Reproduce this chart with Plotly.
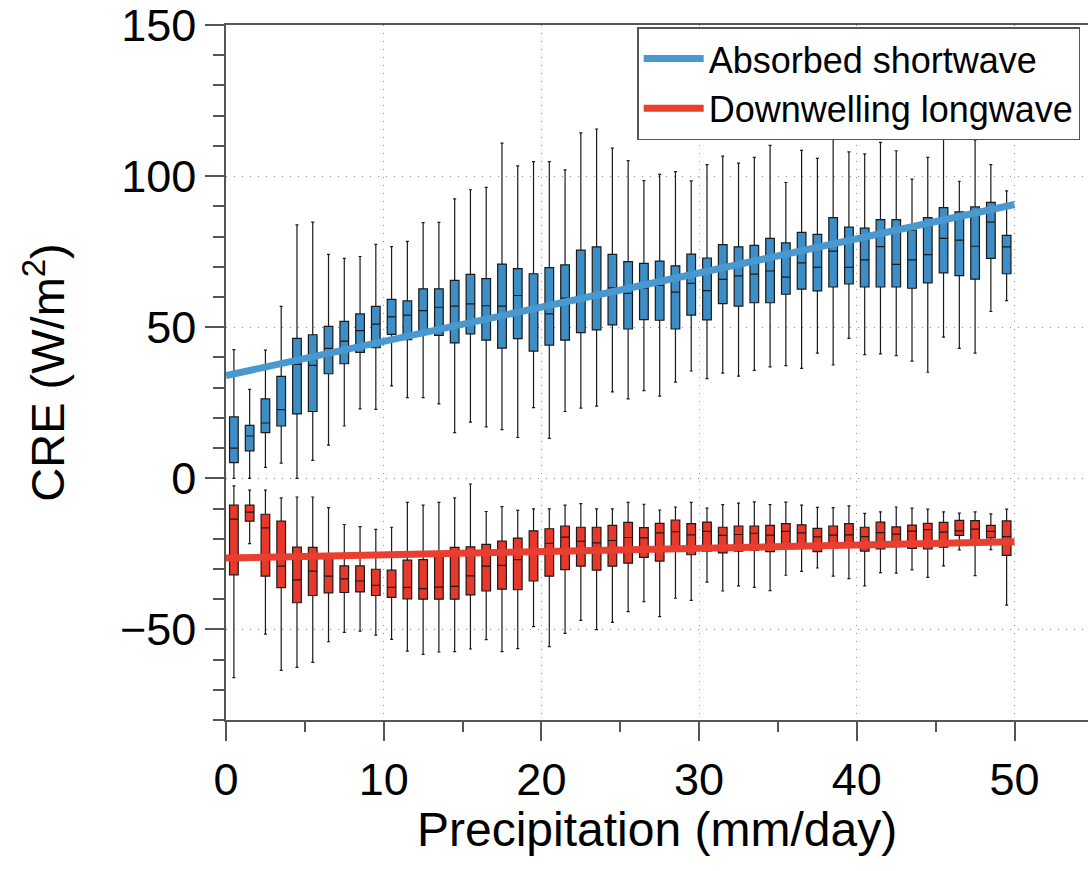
import plotly.graph_objects as go

# bin centres (mm/day)
bins = [0.5, 1.5, 2.5, 3.5, 4.5, 5.5, 6.5, 7.5, 8.5, 9.5,
        10.5, 11.5, 12.5, 13.5, 14.5, 15.5, 16.5, 17.5, 18.5, 19.5,
        20.5, 21.5, 22.5, 23.5, 24.5, 25.5, 26.5, 27.5, 28.5, 29.5,
        30.5, 31.5, 32.5, 33.5, 34.5, 35.5, 36.5, 37.5, 38.5, 39.5,
        40.5, 41.5, 42.5, 43.5, 44.5, 45.5, 46.5, 47.5, 48.5, 49.5]

# Absorbed shortwave CRE (W/m2)
sw_low = [0.0, 0.0, 3.6, 5.0, 0.0, 5.9, 11.0, 17.3, 23.0, 22.8, 30.6, 26.7, 26.7, 24.6, 15.1, 18.6, 17.0, 16.1, 13.5, 23.4,
          13.2, 22.1, 23.2, 23.9, 28.6, 26.3, 29.0, 27.2, 31.8, 35.5, 33.0, 34.8, 33.8, 35.7, 36.9, 37.3, 36.4, 41.4, 37.5, 46.3,
          40.9, 41.2, 40.6, 38.8, 35.1, 46.7, 43.0, 41.4, 55.2, 58.8]
sw_q1 = [5.2, 9.1, 15.1, 17.3, 21.3, 22.1, 34.6, 37.9, 41.7, 43.2, 47.6, 45.9, 48.1, 47.3, 44.8, 47.8, 45.7, 43.1, 46.2, 42.1,
         44.1, 45.7, 48.2, 49.1, 50.8, 49.4, 52.5, 52.3, 49.4, 54.0, 52.4, 57.8, 57.0, 58.1, 58.1, 60.9, 62.6, 62.0, 63.3, 64.3,
         63.3, 63.3, 63.3, 62.9, 64.7, 68.0, 67.1, 65.9, 72.8, 67.7]
sw_med = [10.0, 14.0, 18.3, 22.7, 37.7, 37.4, 43.0, 45.4, 48.9, 51.0, 53.4, 54.0, 55.5, 56.6, 57.0, 57.7, 57.1, 57.0, 60.5, 55.9,
          54.4, 59.6, 59.4, 61.1, 63.0, 61.2, 62.9, 63.8, 61.6, 64.5, 62.1, 65.8, 67.0, 67.6, 68.6, 66.6, 71.3, 69.8, 75.2, 69.8,
          72.3, 76.7, 70.8, 72.3, 74.0, 79.4, 78.8, 76.8, 84.8, 76.6]
sw_q3 = [20.3, 17.5, 26.3, 33.7, 46.3, 47.5, 50.3, 51.9, 54.4, 56.9, 59.2, 58.7, 62.7, 62.7, 65.5, 67.5, 66.1, 70.9, 69.4, 67.7,
         69.7, 70.6, 75.5, 76.6, 74.1, 71.7, 71.1, 71.9, 70.3, 74.2, 72.9, 77.3, 76.6, 77.1, 79.4, 77.9, 81.4, 80.7, 86.3, 83.1,
         82.8, 85.6, 85.6, 82.1, 86.3, 89.6, 88.2, 89.8, 91.3, 80.4]
sw_high = [42.6, 29.4, 42.4, 56.9, 83.9, 84.8, 74.1, 72.8, 73.4, 77.4, 76.7, 78.4, 84.6, 84.7, 92.5, 95.5, 96.3, 110.9, 103.4, 104.8,
           104.8, 102.1, 114.3, 115.6, 109.3, 105.1, 98.5, 100.6, 101.5, 98.4, 103.8, 106.6, 104.3, 106.2, 110.2, 97.9, 108.5, 105.9, 112.8, 108.0,
           107.4, 111.2, 108.4, 99.0, 106.2, 118.1, 98.3, 112.0, 103.8, 95.1]

# Downwelling longwave CRE (W/m2)
lw_high = [-2.5, -3.9, -3.9, -6.5, -6.2, -6.2, -9.7, -15.3, -16.0, -16.9, -16.2, -8.0, -8.9, -8.0, -6.5, -1.9, -11.0, -9.4, -10.6, -10.1,
           -10.1, -8.9, -8.4, -10.1, -10.1, -8.0, -8.6, -10.5, -9.5, -8.0, -9.9, -8.7, -8.2, -7.8, -8.7, -7.9, -8.9, -9.6, -9.7, -9.1,
           -11.6, -11.1, -9.5, -9.9, -10.2, -11.1, -11.5, -11.1, -11.8, -10.2]
lw_q3 = [-8.9, -8.9, -11.9, -14.2, -22.8, -22.9, -26.5, -29.0, -29.0, -30.1, -30.4, -27.1, -26.9, -24.6, -22.9, -22.7, -21.9, -20.8, -19.8, -17.4,
         -16.7, -15.8, -16.2, -16.2, -15.6, -14.6, -16.3, -14.9, -13.8, -15.0, -14.5, -16.2, -15.8, -15.8, -15.6, -15.0, -15.4, -16.6, -15.8, -15.0,
         -16.2, -14.5, -16.1, -15.5, -14.9, -14.6, -13.9, -14.0, -15.6, -14.1]
lw_med = [-13.5, -11.2, -16.4, -29.1, -33.6, -30.7, -32.4, -33.3, -34.0, -35.4, -36.1, -36.1, -36.5, -36.0, -35.8, -32.3, -29.1, -28.8, -26.9, -23.8,
          -21.5, -19.5, -20.9, -21.4, -20.6, -19.6, -19.7, -18.1, -17.7, -18.7, -17.6, -18.9, -18.6, -18.2, -18.8, -17.6, -18.1, -19.4, -18.8, -18.7,
          -19.3, -18.0, -18.5, -17.5, -17.0, -17.8, -17.4, -16.8, -17.6, -19.3]
lw_q1 = [-32.0, -14.2, -32.4, -36.2, -41.2, -38.8, -37.9, -37.8, -37.6, -38.8, -39.4, -39.9, -40.0, -40.0, -40.0, -38.6, -37.3, -36.7, -36.9, -34.0,
         -32.4, -30.2, -29.1, -30.4, -29.1, -28.1, -26.2, -27.4, -24.0, -25.3, -24.1, -24.7, -24.1, -23.8, -24.3, -21.9, -22.5, -24.3, -23.0, -22.9,
         -24.1, -23.4, -22.6, -23.2, -23.4, -22.8, -18.9, -21.9, -19.7, -25.5]
lw_low = [-66.0, -21.6, -51.6, -63.6, -62.6, -60.9, -54.1, -51.0, -50.6, -51.9, -53.3, -57.2, -58.3, -57.5, -57.4, -56.5, -53.4, -57.4, -56.4, -49.1,
          -55.7, -51.3, -47.0, -50.1, -47.7, -44.1, -40.8, -45.8, -39.7, -40.4, -34.4, -37.3, -35.6, -36.1, -37.2, -32.1, -30.8, -29.7, -32.4, -33.2,
          -35.6, -31.2, -31.4, -30.3, -32.8, -29.0, -23.7, -32.2, -23.6, -42.0]

# linear fits
fit_x = [0, 50]
sw_fit = [34.0, 90.6]
lw_fit = [-26.4, -21.0]

# axis tick values
x_ticks = [0, 10, 20, 30, 40, 50]
y_ticks = [-50, 0, 50, 100, 150]

FONT = "Liberation Sans, Arial, Helvetica, sans-serif"
BLUE_BOX = "#3d8ec6"
RED_BOX = "#e8382a"
BLUE_LINE = "#4a98d0"
RED_LINE = "#ea3f30"
AXC = "#555555"

fig = go.Figure()

for name, lo, q1, md, q3, hi, col in [
    ("sw", sw_low, sw_q1, sw_med, sw_q3, sw_high, BLUE_BOX),
    ("lw", lw_low, lw_q1, lw_med, lw_q3, lw_high, RED_BOX),
]:
    fig.add_trace(go.Box(
        x=bins, q1=q1, median=md, q3=q3, lowerfence=lo, upperfence=hi,
        width=0.55, whiskerwidth=0.35, fillcolor=col,
        line=dict(color="#1a1a1a", width=1.2),
        boxpoints=False, showlegend=False, hoverinfo="skip", name=name,
    ))

fig.add_trace(go.Scatter(x=fit_x, y=sw_fit, mode="lines", name="Absorbed shortwave",
                         line=dict(color=BLUE_LINE, width=7)))
fig.add_trace(go.Scatter(x=fit_x, y=lw_fit, mode="lines", name="Downwelling longwave",
                         line=dict(color=RED_LINE, width=7)))

axis_common = dict(
    automargin=False,
    showline=True, linecolor=AXC, linewidth=1.5,
    ticks="outside", ticklen=19, tickwidth=1.5, tickcolor=AXC,
    showgrid=True, gridcolor="#8a8a8a", griddash="1px,7px", gridwidth=1.3,
    zeroline=False,
    tickfont=dict(family=FONT, size=45, color="black"),
    tickmode="array",
    ticklabeloverflow="allow",
)

fig.update_layout(
    template="none",
    width=1088, height=871,
    margin=dict(l=226, r=0, t=25, b=151),
    plot_bgcolor="white", paper_bgcolor="white",
    boxmode="overlay",
    font=dict(family=FONT, color="black"),
    xaxis=dict(
        **axis_common,
        range=[0, 54.66], tickvals=x_ticks, mirror=True,
        minor=dict(dtick=5, tick0=0, ticks="outside", ticklen=10, tickwidth=1.5, tickcolor=AXC, showgrid=False),
    ),
    yaxis=dict(
        **axis_common,
        range=[-80, 150.02], tickvals=y_ticks,
        ticklabelstandoff=0,
        minor=dict(dtick=10, tick0=0, ticks="outside", ticklen=11, tickwidth=1.5, tickcolor=AXC, showgrid=False),
        title=dict(text="CRE (W/m<sup>2</sup>)", font=dict(family=FONT, size=47), standoff=40),
    ),
    legend=dict(
        x=0.477, y=0.997, xanchor="left", yanchor="top",
        bgcolor="white", bordercolor=AXC, borderwidth=1.5,
        font=dict(family=FONT, size=36, color="black"),
        itemwidth=60,
        tracegroupgap=0,
    ),
    annotations=[dict(
        text="Precipitation (mm/day)", xref="paper", yref="paper",
        x=0.5, y=-0.158, xanchor="center", yanchor="middle", showarrow=False,
        font=dict(family=FONT, size=48, color="black"),
    )],
)

fig.write_html("out.html", config={"displayModeBar": False},
               post_script="document.body.style.margin='0';document.body.style.overflow='hidden';")
